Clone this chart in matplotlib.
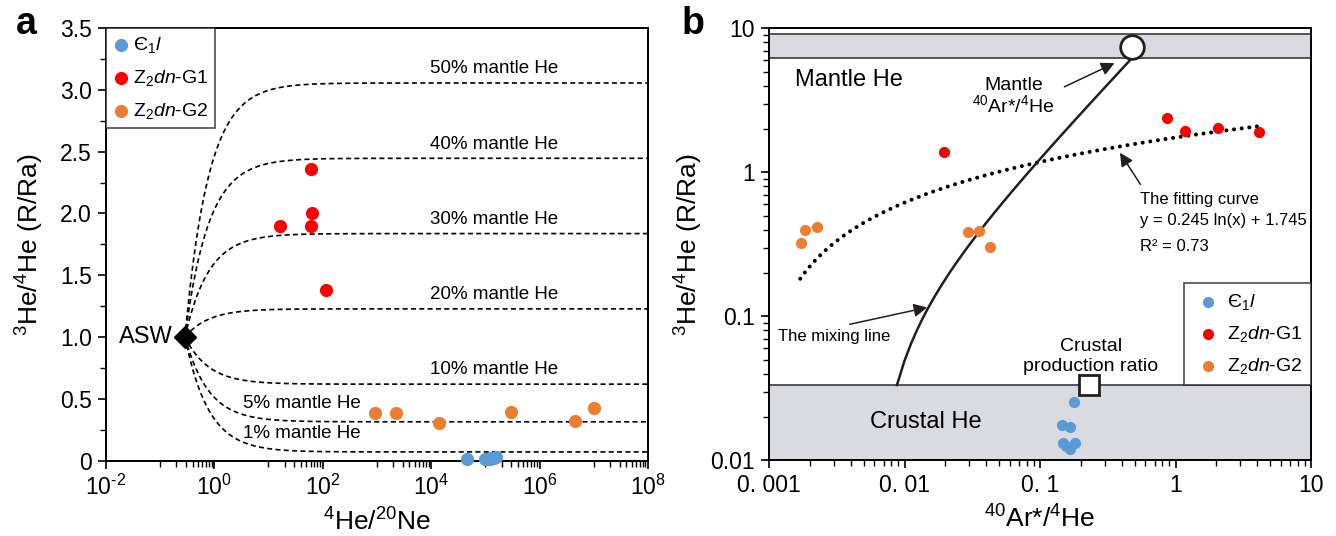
"""
Helium isotope plots: 3He/4He vs 4He/20Ne (a) and vs 40Ar*/4He (b).
"""

import numpy as np
import matplotlib
matplotlib.use('Agg')
from matplotlib import pyplot as plt
from matplotlib.ticker import FixedLocator, NullFormatter, FixedFormatter

plt.rcParams['font.family'] = ['Liberation Sans', 'DejaVu Sans']
plt.rcParams['mathtext.fontset'] = 'custom'
plt.rcParams['mathtext.rm'] = 'Liberation Sans'
plt.rcParams['mathtext.it'] = 'Liberation Sans:italic'
plt.rcParams['axes.linewidth'] = 1.4
plt.rcParams['axes.unicode_minus'] = False

BLUE = '#5b9bd5'
RED = '#ff0000'
ORANGE = '#ed7d31'
INK = '#231f20'

labels = [r'Є$_1$$\mathit{l}$', r'Z$_2$$\mathit{dn}$-G1', r'Z$_2$$\mathit{dn}$-G2']

# --- panel a data (4He/20Ne, R/Ra)
a_blue_x = [4.6e4, 1.0e5, 1.1e5, 1.2e5, 1.3e5, 1.45e5, 1.55e5]
a_blue_y = [0.013, 0.012, 0.013, 0.017, 0.018, 0.022, 0.028]
a_red_x = [16.4, 61, 63, 61, 115]
a_red_y = [1.90, 2.36, 2.00, 1.90, 1.38]
a_org_x = [916, 2275, 1.42e4, 2.94e5, 4.6e6, 1.0e7]
a_org_y = [0.388, 0.388, 0.302, 0.397, 0.321, 0.424]

asw_x, asw_y = 0.29, 1.0
mantle_fraction = [0.5, 0.4, 0.3, 0.2, 0.1, 0.05, 0.01]
mantle_R, crust_R = 6.1, 0.01
a_decades = [-2, 0, 2, 4, 6, 8]

# --- panel b data (40Ar*/4He, R/Ra)
b_blue_x = [0.179, 0.1445, 0.166, 0.149, 0.181, 0.166, 0.155]
b_blue_y = [0.0256, 0.0177, 0.0172, 0.0132, 0.0133, 0.0120, 0.0127]
b_red_x = [0.0195, 0.87, 1.17, 2.05, 4.1]
b_red_y = [1.38, 2.37, 1.94, 2.04, 1.90]
b_org_x = [0.00173, 0.00183, 0.00227, 0.0294, 0.0356, 0.0431]
b_org_y = [0.322, 0.40, 0.42, 0.387, 0.392, 0.302]

mantle_end = (0.48, 7.45)
crust_end = (0.23, 0.0334)
mix_start = (0.0088, 0.0334)
mix_end = (0.48, 6.25)
mantle_band = (6.25, 9.1)
crust_band = (0.01, 0.0334)
fit_a, fit_b = 0.245, 1.745
fit_range = (0.0017, 4.0)

fig = plt.figure(figsize=(13.36, 5.36), dpi=100)
axa = fig.add_axes([0.0791, 0.1405, 0.4059, 0.8073])
axb = fig.add_axes([0.5756, 0.1409, 0.4057, 0.8063])

# ---------------- panel a
for f in mantle_fraction:
    Re = f * mantle_R + (1 - f) * crust_R
    xs = np.logspace(np.log10(asw_x), 8, 500)
    ys = Re + (asw_y - Re) * asw_x / xs
    axa.plot(xs, ys, color='black', lw=1.2, ls=(0, (3, 2)), zorder=2)
    pct = f'{int(round(f * 100))}% mantle He'
    if f >= 0.1:
        axa.text(1.45e5, Re + 0.115, pct, ha='center', va='center', fontsize=13.5)
    else:
        axa.text(3.4, Re + 0.145, pct, ha='left', va='center', fontsize=13.5)

axa.scatter(a_blue_x, a_blue_y, s=90, color=BLUE, lw=0, zorder=4, clip_on=False, label=labels[0])
axa.scatter(a_red_x, a_red_y, s=90, color=RED, lw=0, zorder=4, label=labels[1])
axa.scatter(a_org_x, a_org_y, s=90, color=ORANGE, lw=0, zorder=4, label=labels[2])
axa.plot([asw_x], [asw_y], marker='D', ms=11, color='black', zorder=5)
axa.text(0.174, 1.0, 'ASW', ha='right', va='center', fontsize=17)

axa.set_xscale('log')
axa.set_xlim(1e-2, 1e8)
axa.set_ylim(0, 3.5)
axa.xaxis.set_major_locator(FixedLocator([10.0 ** e for e in a_decades]))
axa.xaxis.set_major_formatter(FixedFormatter([r'$10^{\text{%d}}$' % e for e in a_decades]))
minor_a = []
for e in range(-1, 8, 2):
    minor_a += [m * 10.0 ** e for m in range(1, 10)]
axa.xaxis.set_minor_locator(FixedLocator(minor_a))
axa.xaxis.set_minor_formatter(NullFormatter())
axa.set_yticks(np.arange(0, 3.51, 0.5))
axa.set_yticklabels(['0', '0.5', '1.0', '1.5', '2.0', '2.5', '3.0', '3.5'])
axa.set_yticks(np.arange(0.25, 3.5, 0.5), minor=True)
axa.set_xlabel(r'$^{4}$He/$^{20}$Ne', fontsize=19, labelpad=6)
axa.set_ylabel(r'$^{3}$He/$^{4}$He (R/Ra)', fontsize=19, labelpad=10)

leg = axa.legend(loc='upper left', bbox_to_anchor=(0, 1), borderaxespad=0, fontsize=14,
                 frameon=True, fancybox=False, edgecolor=INK, handletextpad=0.15,
                 labelspacing=0.68, borderpad=0.35, handlelength=0.9, markerscale=1.0)
leg.get_frame().set_linewidth(1.2)

# ---------------- panel b
axb.axhspan(*mantle_band, facecolor='#d9dbe0', edgecolor='none', zorder=0)
axb.axhspan(*crust_band, facecolor='#d9dbe0', edgecolor='none', zorder=0)
for yv in (mantle_band[0], mantle_band[1], crust_band[1]):
    axb.axhline(yv, color='#3a3a3a', lw=1.2, zorder=1)

fit_x = np.logspace(np.log10(fit_range[0]), np.log10(fit_range[1]), 400)
fit_y = fit_a * np.log(fit_x) + fit_b
axb.plot(fit_x, fit_y, color='black', lw=2.9, ls=(0, (0.01, 1.9)),
         dash_capstyle='round', zorder=3)

frac = np.linspace(0, 1, 400)
mix_x = mix_start[0] + frac * (mix_end[0] - mix_start[0])
mix_y = mix_start[1] + frac * (mix_end[1] - mix_start[1])
axb.plot(mix_x, mix_y, color=INK, lw=1.8, zorder=3)

axb.scatter(b_blue_x, b_blue_y, s=65, color=BLUE, lw=0, zorder=4, label=labels[0])
axb.scatter(b_red_x, b_red_y, s=65, color=RED, lw=0, zorder=4, label=labels[1])
axb.scatter(b_org_x, b_org_y, s=65, color=ORANGE, lw=0, zorder=4, label=labels[2])
axb.plot([mantle_end[0]], [mantle_end[1]], marker='o', ms=17, mfc='white', mec=INK, mew=2, zorder=6)
axb.plot([crust_end[0]], [crust_end[1]], marker='s', ms=15, mfc='white', mec=INK, mew=2, zorder=6)

axb.text(0.00155, 4.38, 'Mantle He', ha='left', va='center', fontsize=17)
axb.text(0.00556, 0.0185, 'Crustal He', ha='left', va='center', fontsize=17)
axb.text(0.064, 4.04, 'Mantle', ha='center', va='center', fontsize=14)
axb.text(0.064, 2.92, r'$^{40}$Ar*/$^{4}$He', ha='center', va='center', fontsize=14)
axb.annotate('', xy=(0.37, 5.84), xytext=(0.145, 3.85),
             arrowprops=dict(arrowstyle='-|>', color=INK, lw=1.1, mutation_scale=20))
axb.text(0.547, 0.653, 'The fitting curve', ha='left', va='center', fontsize=12)
axb.text(0.547, 0.46, 'y = 0.245 ln(x) + 1.745', ha='left', va='center', fontsize=12)
axb.text(0.547, 0.308, 'R² = 0.73', ha='left', va='center', fontsize=12)
axb.annotate('', xy=(0.379, 1.42), xytext=(0.566, 0.794),
             arrowprops=dict(arrowstyle='-|>', color=INK, lw=1.1, mutation_scale=20))
axb.text(0.00116, 0.0731, 'The mixing line', ha='left', va='center', fontsize=12)
axb.annotate('', xy=(0.0154, 0.1165), xytext=(0.00376, 0.0873),
             arrowprops=dict(arrowstyle='-|>', color=INK, lw=1.1, mutation_scale=20))
axb.text(0.2366, 0.0614, 'Crustal', ha='center', va='center', fontsize=14)
axb.text(0.2366, 0.0446, 'production ratio', ha='center', va='center', fontsize=14)

axb.set_xscale('log')
axb.set_yscale('log')
axb.set_xlim(1e-3, 10)
axb.set_ylim(1e-2, 10)
axb.set_xticks([1e-3, 1e-2, 1e-1, 1, 10])
axb.set_xticklabels(['0. 001', '0. 01', '0. 1', '1', '10'])
axb.set_yticks([1e-2, 1e-1, 1, 10])
axb.set_yticklabels(['0.01', '0.1', '1', '10'])
axb.xaxis.set_minor_formatter(NullFormatter())
axb.yaxis.set_minor_formatter(NullFormatter())
axb.set_xlabel(r'$^{40}$Ar*/$^{4}$He', fontsize=19, labelpad=6)
axb.set_ylabel(r'$^{3}$He/$^{4}$He (R/Ra)', fontsize=19, labelpad=4)

legb = axb.legend(loc='lower right', bbox_to_anchor=(1, 0.1747), borderaxespad=0, fontsize=14,
                  frameon=True, fancybox=False, edgecolor=INK, handletextpad=0.15,
                  labelspacing=0.62, borderpad=0.45, handlelength=1.6)
legb.get_frame().set_linewidth(1.2)

for ax in (axa, axb):
    ax.tick_params(which='major', direction='out', length=6, width=1.2, labelsize=16.5, pad=4)
    ax.tick_params(which='minor', direction='out', length=4, width=1.0)
    for sp in ax.spines.values():
        sp.set_color('black')

fig.text(0.012, 0.955, 'a', fontsize=27, fontweight='bold', va='center')
fig.text(0.51, 0.955, 'b', fontsize=27, fontweight='bold', va='center')

fig.savefig('out.png', dpi=100)
